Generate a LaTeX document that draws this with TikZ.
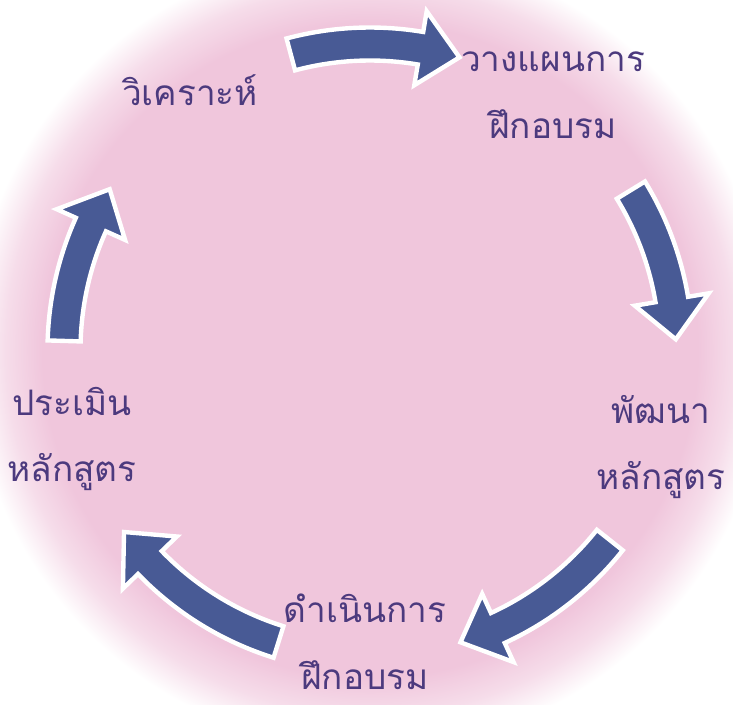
\documentclass[tikz,border=0pt]{standalone}
\usepackage{fontspec}
\newfontfamily\thaifont[Script=Thai]{Loma}
\definecolor{pinkbg}{RGB}{240,198,220}
\definecolor{arrowblue}{RGB}{72,90,149}
\definecolor{txtviolet}{RGB}{76,58,126}
\pgfdeclareradialshading{pinkdisc}{\pgfpoint{0bp}{0bp}}{color(0bp)=(pinkbg); color(19.5bp)=(pinkbg); color(21.7bp)=(pinkbg!60!white); color(23.8bp)=(white); color(50bp)=(white)}
\tikzset{
  steplabel/.style={font=\thaifont\fontsize{20}{38}\selectfont, text=txtviolet, align=center, inner sep=0pt},
  cyclearrow/.style={fill=arrowblue, draw=white, line width=2.5pt, line join=miter}
}
\begin{document}
\begin{tikzpicture}
    %sfondo rosa
    \useasboundingbox (-7.4,-7.08) rectangle (7.26,7.0);
    \clip (-7.4,-7.08) rectangle (7.26,7.0);
    \fill[white] (-7.4,-7.08) rectangle (7.26,7.0);
    \shade[shading=pinkdisc] (0,0) circle (8.4);
    \coordinate (ctr) at (0,0);
    %fasi
    \node[steplabel] (ana) at (-3.6,5.2) {วิเคราะห์};
    \node[steplabel] (plan) at (3.66,5.1) {วางแผนการ\\ฝึกอบรม};
    \node[steplabel] (dev) at (5.82,-1.94) {พัฒนา\\หลักสูตร};
    \node[steplabel] (run) at (-0.1,-5.84) {ดำเนินการ\\ฝึกอบรม};
    \node[steplabel] (eval) at (-5.96,-1.78) {ประเมิน\\หลักสูตร};
    %frecce del ciclo
    \begin{scope}[shift={(ctr)}]
    \foreach \a/\b in {105/73, 31.5/2, -38.4/-72.8, -107.4/-143.5, 178.3/148.3}{
        \pgfmathsetmacro\h{\b+7.5}
        \draw[cyclearrow](\a:6.45)arc[start angle=\a,end angle=\h,radius=6.45]--(\h:6.87)--(\b:6.12)--(\h:5.37)--(\h:5.79)arc[start angle=\h,end angle=\a,radius=5.79]--cycle;
    }
    \end{scope}
\end{tikzpicture}
\end{document}
